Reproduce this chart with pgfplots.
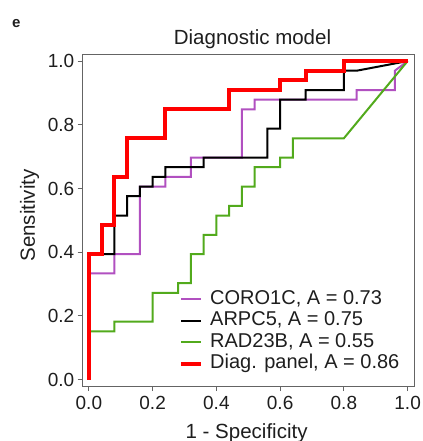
\documentclass[border=0pt]{standalone}
\usepackage{fontspec}
\setmainfont{Liberation Sans}
\usepackage{pgfplots}
\pgfplotsset{compat=1.18}
\definecolor{cpurple}{RGB}{177,80,192}
\definecolor{cgreen}{RGB}{82,170,28}
\definecolor{axgray}{RGB}{100,100,100}
\definecolor{txt}{RGB}{30,30,30}
\begin{document}
\begin{tikzpicture}
\useasboundingbox (0,0) rectangle (423bp,441bp);
\begin{axis}[
  at={(82.5bp,55bp)}, anchor=south west,
  scale only axis, width=331.5bp, height=331.3bp,
  xmin=-0.02, xmax=1.02, ymin=-0.02, ymax=1.02,
  xtick={0,0.2,0.4,0.6,0.8,1}, ytick={0,0.2,0.4,0.6,0.8,1},
  xticklabels={0.0,0.2,0.4,0.6,0.8,1.0},
  yticklabels={0.0,0.2,0.4,0.6,0.8,1.0},
  tick pos=left, tick align=outside, major tick length=5bp,
  axis line style={axgray, line width=0.9bp},
  tick style={axgray, line width=0.9bp},
  ticklabel style={font=\fontsize{19bp}{22bp}\selectfont, text=txt},
  xticklabel style={inner sep=0pt, anchor=north, yshift=-5bp},
  yticklabel style={inner sep=0pt, anchor=east, xshift=-3bp},
  xlabel={1 - Specificity},
  ylabel={Sensitivity},
  label style={font=\fontsize{20.5bp}{24bp}\selectfont, text=txt},
  xlabel style={at={(axis description cs:0.495,-0.157)}, anchor=base, inner sep=0pt},
  ylabel style={at={(axis description cs:-0.1433,0.5146)}, anchor=base, inner sep=0pt},
  legend cell align=left,
  legend image code/.code={\draw[#1] (0bp,0bp) -- (20bp,0bp);},
  legend style={draw=none, fill=none, inner sep=0pt, column sep=7bp, row sep=3.5bp,
    at={(0.2911,0.2889)}, anchor=north west,
    font=\fontsize{20bp}{24bp}\selectfont, text=txt,
    nodes={inner sep=0pt, text height=14bp, text depth=4bp}},
  line join=miter,
]
\addplot[cpurple, line width=2bp] coordinates {
 (0,0) (0,0.3333) (0.08,0.3333) (0.08,0.3939) (0.16,0.3939) (0.16,0.6061)
 (0.24,0.6061) (0.24,0.6364) (0.32,0.6364) (0.32,0.6970) (0.48,0.6970)
 (0.48,0.8485) (0.52,0.8485) (0.52,0.8788) (0.84,0.8788) (0.84,0.9091)
 (0.96,0.9091) (0.96,0.9697) (1,1)};
\addlegendentry{CORO1C, A = 0.73}
\addplot[black, line width=2bp] coordinates {
 (0,0) (0,0.3939) (0.08,0.3939) (0.08,0.5152) (0.12,0.5152) (0.12,0.5758)
 (0.16,0.5758) (0.16,0.6061) (0.20,0.6061) (0.20,0.6364) (0.24,0.6364)
 (0.24,0.6667) (0.36,0.6667) (0.36,0.6970) (0.56,0.6970) (0.56,0.7879)
 (0.60,0.7879) (0.60,0.8788) (0.68,0.8788) (0.68,0.9091) (0.80,0.9091)
 (0.80,0.9697) (0.84,0.9697) (1,1)};
\addlegendentry{ARPC5, A = 0.75}
\addplot[cgreen, line width=2bp] coordinates {
 (0,0) (0,0.1515) (0.08,0.1515) (0.08,0.1818) (0.20,0.1818) (0.20,0.2727)
 (0.28,0.2727) (0.28,0.3030) (0.32,0.3030) (0.32,0.3939) (0.36,0.3939)
 (0.36,0.4545) (0.40,0.4545) (0.40,0.5152) (0.44,0.5152) (0.44,0.5455)
 (0.48,0.5455) (0.48,0.6061) (0.52,0.6061) (0.52,0.6667) (0.60,0.6667)
 (0.60,0.6970) (0.64,0.6970) (0.64,0.7576) (0.80,0.7576) (1,1)};
\addlegendentry{RAD23B, A = 0.55}
\addplot[red, line width=4bp] coordinates {
 (0,0) (0,0.3939) (0.04,0.3939) (0.04,0.4848) (0.08,0.4848) (0.08,0.6364)
 (0.12,0.6364) (0.12,0.7576) (0.24,0.7576) (0.24,0.8485) (0.44,0.8485)
 (0.44,0.9091) (0.60,0.9091) (0.60,0.9394) (0.68,0.9394) (0.68,0.9697)
 (0.80,0.9697) (0.80,1) (1,1)};
\addlegendentry{Diag. panel, A = 0.86}
\end{axis}
\node[anchor=base, inner sep=0pt, text=txt, font=\fontsize{20.5bp}{24bp}\selectfont] at (252.5bp,396bp) {Diagnostic model};
\node[anchor=base west, inner sep=0pt, text=txt, font=\fontsize{15bp}{18bp}\selectfont\bfseries] at (12bp,413bp) {e};
\end{tikzpicture}
\end{document}
